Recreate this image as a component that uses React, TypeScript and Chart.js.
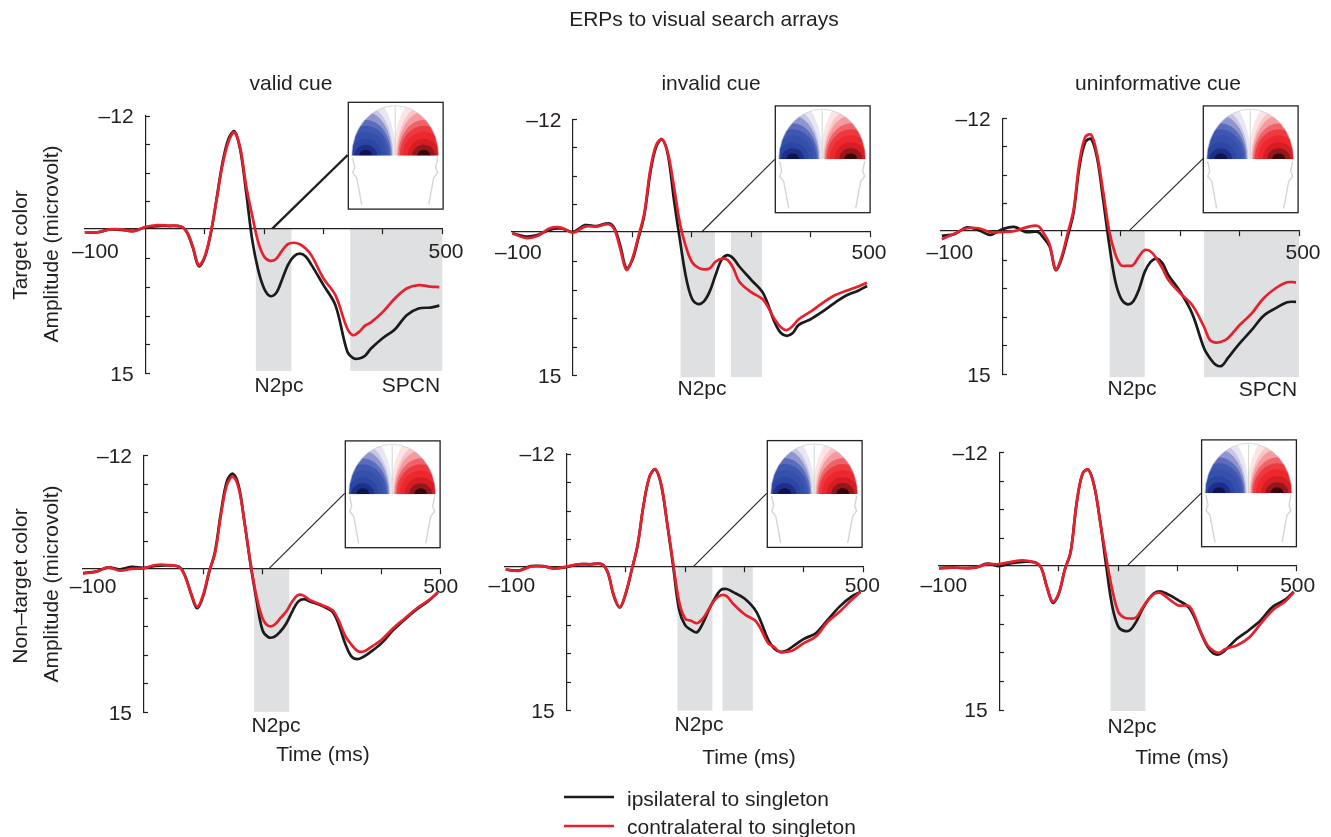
import React, { useEffect, useRef } from "react";
import { Chart, registerables } from "chart.js";

Chart.register(...registerables);

const FONT = '"Liberation Sans", Arial, sans-serif';
const INK = "#231f20";
const RED = "#e6202c";
const SHADE = "#dfe0e2";

const TIME = [-102, -80, -60, -40, -20, 0, 20, 40, 60, 70, 80, 90, 100, 110, 120, 130, 140, 150, 160, 170, 180, 190, 200, 210, 220, 230, 240, 250, 260, 270, 280, 300, 320, 340, 350, 360, 370, 380, 400, 420, 440, 460, 480, 495];
const X_TICKS = [-100, 0, 100, 200, 300, 400, 500];
const Y_TICKS = [-12, -9, -6, -3, 0, 3, 6, 9, 12, 15];

const VALID_TARGET_IPSI = [0.2, 0.2, -0.1, -0.05, 0.05, -0.3, -0.45, -0.45, -0.4, 0.2, 1.8, 3.75, 2.85, 0.4, -3.3, -7.1, -9.6, -10.4, -8.4, -3.9, 1.0, 4.15, 6.1, 6.9, 6.6, 5.2, 3.65, 2.75, 2.45, 2.75, 3.65, 5.75, 7.85, 12.7, 13.4, 13.45, 13.15, 12.4, 11.3, 10.4, 8.9, 8.2, 8.1, 7.9];
const VALID_TARGET_CONTRA = [0.2, 0.2, -0.1, -0.1, 0.1, -0.35, -0.55, -0.5, -0.4, 0.15, 1.7, 3.65, 2.75, 0.3, -3.2, -6.85, -9.3, -10.3, -8.6, -4.6, -1.55, 1.2, 2.75, 3.2, 3.0, 2.15, 1.45, 1.3, 1.45, 1.9, 2.65, 5.05, 6.8, 10.3, 11.0, 10.65, 10.0, 9.65, 8.55, 7.15, 6.1, 5.75, 5.9, 5.95];
const INVALID_TARGET_IPSI = [0, 0.35, 0.2, -0.35, -0.5, -0.15, -0.85, -0.75, -1.05, -0.5, 1.4, 3.7, 2.8, 0.55, -1.9, -6.3, -9.1, -9.9, -8.2, -3.5, 0.7, 4.55, 6.85, 7.45, 7.2, 6.15, 4.4, 2.8, 2.3, 2.65, 3.5, 4.9, 6.3, 9.45, 10.5, 10.8, 10.5, 9.65, 9.05, 8.25, 7.35, 6.55, 6.05, 5.55];
const INVALID_TARGET_CONTRA = [0, 0.5, 0.3, -0.5, -0.6, -0.05, -0.7, -0.7, -0.95, -0.35, 1.75, 3.85, 2.65, 0.35, -2.1, -6.65, -9.3, -9.9, -8.4, -4.9, -1.05, 1.4, 3.0, 3.6, 3.8, 3.7, 3.0, 2.7, 2.8, 3.7, 5.1, 6.2, 7.0, 9.1, 9.9, 10.2, 9.75, 9.05, 8.25, 7.35, 6.55, 6.05, 5.6, 5.2];
const UNINF_TARGET_IPSI = [0.4, 0.2, -0.5, -0.2, 0.3, -0.3, -0.55, 0, 0, 0.65, 1.55, 4.0, 2.8, 0.5, -2.0, -6.9, -9.5, -9.8, -7.75, -3.4, 1.2, 5.05, 7.0, 7.6, 7.35, 6.1, 4.2, 3.15, 2.8, 3.3, 4.55, 6.3, 8.6, 12.25, 13.3, 14.0, 14.1, 13.3, 11.75, 10.35, 8.85, 8.05, 7.4, 7.35];
const UNINF_TARGET_CONTRA = [0.75, 0.15, -0.4, -0.4, 0, 0, -0.1, -0.5, -0.65, 0.15, 1.35, 3.95, 2.6, 0.15, -2.3, -7.4, -10.05, -10.25, -8.1, -4.25, -0.2, 2.25, 3.5, 3.55, 3.5, 2.6, 1.9, 2.05, 2.8, 3.85, 5.05, 6.45, 7.7, 10.0, 11.4, 11.65, 11.55, 11.2, 9.8, 8.6, 7.0, 5.95, 5.3, 5.3];
const VALID_NONTARGET_IPSI = [0.35, 0.2, -0.25, -0.05, -0.3, -0.2, -0.4, -0.45, -0.3, 0.7, 2.6, 4.05, 2.8, 0.3, -1.9, -6.0, -9.3, -10.1, -8.8, -4.85, -0.5, 3.2, 6.35, 7.1, 7.05, 6.5, 5.65, 4.4, 3.35, 3.1, 3.35, 3.8, 4.6, 7.9, 9.15, 9.4, 9.15, 8.75, 7.75, 6.35, 5.2, 4.15, 3.25, 2.4];
const VALID_NONTARGET_CONTRA = [0.4, 0.2, -0.25, 0.1, -0.1, -0.15, -0.5, -0.5, -0.25, 0.75, 2.5, 3.9, 2.65, 0.2, -1.7, -5.75, -8.9, -9.8, -8.55, -4.85, -0.65, 2.85, 5.1, 5.9, 5.8, 5.1, 4.4, 3.35, 2.65, 2.75, 3.2, 3.7, 4.4, 7.05, 7.9, 8.55, 8.6, 8.25, 7.4, 6.15, 5.1, 4.05, 3.2, 2.4];
const INVALID_NONTARGET_IPSI = [0.15, 0.25, -0.2, -0.2, 0, -0.1, -0.4, -0.4, -0.4, 0.5, 2.95, 4.15, 2.7, 0.25, -2.4, -6.6, -9.6, -10.4, -8.65, -4.6, -0.15, 4.4, 6.0, 6.5, 6.75, 5.8, 4.4, 3.2, 2.3, 2.2, 2.5, 3.2, 4.6, 7.55, 8.45, 8.8, 8.7, 8.3, 7.45, 6.85, 5.45, 4.05, 3.0, 2.5];
const INVALID_NONTARGET_CONTRA = [0.15, 0.3, -0.15, -0.2, 0.05, -0.15, -0.4, -0.4, -0.4, 0.5, 2.85, 4.1, 2.65, 0.2, -2.4, -6.6, -9.6, -10.4, -8.75, -4.7, -0.5, 3.55, 5.3, 5.55, 5.8, 5.3, 4.3, 3.35, 2.85, 2.95, 3.7, 4.85, 5.65, 7.9, 8.3, 8.85, 8.8, 8.7, 7.9, 7.2, 5.65, 4.6, 3.35, 2.55];
const UNINF_NONTARGET_IPSI = [0.1, 0.05, 0.1, 0.05, -0.35, -0.1, -0.4, -0.55, -0.5, 0.05, 2.1, 3.75, 2.8, 0.3, -1.6, -6.7, -9.8, -10.2, -8.4, -4.6, 0, 4.15, 6.25, 6.7, 6.6, 5.75, 4.5, 3.45, 2.75, 2.55, 2.75, 3.45, 4.35, 7.05, 8.35, 9.05, 9.15, 8.7, 7.5, 6.6, 5.55, 4.15, 3.45, 2.6];
const UNINF_NONTARGET_CONTRA = [0.15, 0.05, 0.1, 0.05, -0.3, -0.3, -0.55, -0.7, -0.45, 0, 2.05, 3.65, 2.75, 0.3, -1.6, -6.7, -9.8, -10.2, -8.4, -4.6, -0.9, 2.4, 4.7, 5.3, 5.4, 5.3, 4.35, 3.45, 2.85, 2.7, 3.1, 4.0, 4.15, 7.0, 8.2, 8.8, 9.0, 8.6, 8.2, 7.4, 5.9, 4.5, 3.65, 2.65];

const COLUMN_TITLES = ["valid cue", "invalid cue", "uninformative cue"];
const LEGEND_LABELS = ["ipsilateral to singleton", "contralateral to singleton"];

type Panel = {
  ipsi: number[]; contra: number[];
  box: number[]; // xLeft, xRight, yTop, yBottom (px)
  xMin: number; axisY: number;
  shades: number[][]; shadeEnd: number;
  labelOffset: number; lead: string; tickPad: number;
};

const PANELS: Panel[] = [
  { ipsi: VALID_TARGET_IPSI, contra: VALID_TARGET_CONTRA, box: [84.3, 442.3, 116, 373.3], xMin: -102.7, axisY: -0.17, shades: [[186, 246], [345, 500]], shadeEnd: 14.75, labelOffset: 3.7, lead: "  ", tickPad: 6 },
  { ipsi: INVALID_TARGET_IPSI, contra: INVALID_TARGET_CONTRA, box: [511.7, 870, 119.3, 375.7], xMin: -103.2, axisY: -0.14, shades: [[181, 239], [266, 318]], shadeEnd: 15.15, labelOffset: -1, lead: "  ", tickPad: 4 },
  { ipsi: UNINF_TARGET_IPSI, contra: UNINF_TARGET_CONTRA, box: [940.7, 1299, 118.3, 374.3], xMin: -103.8, axisY: -0.14, shades: [[181, 240], [340, 500]], shadeEnd: 15.3, labelOffset: 4, lead: " ", tickPad: 5 },
  { ipsi: VALID_NONTARGET_IPSI, contra: VALID_NONTARGET_CONTRA, box: [82.7, 440.7, 455.7, 712.3], xMin: -102.7, axisY: -0.1, shades: [[186, 245]], shadeEnd: 14.95, labelOffset: 0, lead: "   ", tickPad: 1 },
  { ipsi: INVALID_NONTARGET_IPSI, contra: INVALID_NONTARGET_CONTRA, box: [505, 863.3, 454, 710.7], xMin: -103.2, axisY: -0.14, shades: [[187, 246], [263, 314]], shadeEnd: 15, labelOffset: -1, lead: "  ", tickPad: 2 },
  { ipsi: UNINF_NONTARGET_IPSI, contra: UNINF_NONTARGET_CONTRA, box: [939, 1296.7, 452.7, 710], xMin: -101.4, axisY: -0.14, shades: [[187, 245.5]], shadeEnd: 15.1, labelOffset: 1, lead: " ", tickPad: 3 },
];

const INSETS = [
  { x: 347.7, y: 101.7, line: [272.3, 228.7, 347.7, 155], lw: 2.4 },
  { x: 774.7, y: 105.3, line: [701.7, 232, 774.7, 159.3], lw: 1.1 },
  { x: 1202.7, y: 105.3, line: [1129.3, 230.7, 1203.3, 158.3], lw: 1.1 },
  { x: 344.7, y: 440.3, line: [269, 568.7, 344.7, 493.3], lw: 1.1 },
  { x: 766.7, y: 440, line: [693.3, 566.7, 766.7, 493.3], lw: 1.1 },
  { x: 1201, y: 439.3, line: [1127.3, 565.7, 1201, 493.3], lw: 1.1 },
];

const BLUES = ["#e8e6f2", "#c6c7e3", "#8e95cf", "#5b6cbc", "#3f57b1", "#3550ab", "#2c46a4", "#1e2f8a", "#0d1550"];
const REDS = ["#fce4e4", "#f9c6c8", "#f59a9d", "#f1636a", "#ee3a3f", "#ec282e", "#d61d23", "#94171c", "#3a0709"];
const BAND_RX = [30, 27.5, 26.5, 25.5, 24, 21, 16, 11.5, 6.5];
const BAND_RY = [62, 50, 44, 36, 30, 24, 17, 11, 6];

const pad = 72;
const rect = (p: Panel) => {
  const [xl, xr, yt, yb] = p.box;
  const left = Math.floor(xl) - pad;
  const top = Math.floor(yt) - 20;
  return { left, top, width: Math.ceil(xr - xl) + pad + 40, height: Math.ceil(yb - yt) + 60, pl: xl - left, pt: yt - top };
};

const shadePlugin = {
  id: "shade",
  beforeDraw(chart: any, _a: any, opts: any) {
    const { x, y } = chart.scales;
    const c = chart.ctx;
    c.save();
    c.fillStyle = SHADE;
    const y0 = y.getPixelForValue(opts.top);
    const y1 = y.getPixelForValue(opts.end);
    for (const [a, b] of opts.spans) {
      const xa = x.getPixelForValue(a);
      c.fillRect(xa, y0, x.getPixelForValue(b) - xa, y1 - y0);
    }
    c.restore();
  },
};

function Topo({ x, y }: { x: number; y: number }) {
  const head = "M4 54 A43.5 50 0 0 1 91 54 Z";
  const id = `h${Math.round(x)}${Math.round(y)}`;
  return (
    <g transform={`translate(${x} ${y})`}>
      <rect x="0.6" y="0.6" width="94.8" height="106.8" fill="#fff" stroke={INK} strokeWidth="1.3" />
      <clipPath id={id}><path d={head} /></clipPath>
      <g clipPath={`url(#${id})`} style={{ filter: "blur(0.7px)" }}>
        {BLUES.map((c, i) => <ellipse key={c} cx="18" cy="54" rx={BAND_RX[i]} ry={BAND_RY[i]} fill={c} />)}
        {REDS.map((c, i) => <ellipse key={c} cx="76" cy="54" rx={BAND_RX[i]} ry={BAND_RY[i]} fill={c} />)}
      </g>
      <path d="M4 54 A43.5 50 0 0 1 91 54" fill="none" stroke="#c9c9d2" strokeWidth="0.7" />
      <path d="M47.5 5 V54" stroke="#c4d0c4" strokeWidth="0.8" />
      <path d="M5 56 L7 66 L5 71 L9 76 L14 103 M90 56 L88 66 L90 71 L86 76 L81 103" fill="none" stroke="#d6d6d6" strokeWidth="1.4" />
    </g>
  );
}

const SIZE = 21;
const txt = (cx: number, cy: number): React.CSSProperties => ({
  position: "absolute", left: cx, top: cy - 1, transform: "translate(-50%,-50%)", whiteSpace: "pre",
  fontFamily: FONT, fontSize: SIZE, color: INK, lineHeight: 1,
});
const rot = (cx: number, cy: number): React.CSSProperties => ({ ...txt(cx, cy + 1), transform: "translate(-50%,-50%) rotate(-90deg)" });
const leg = (left: number, cy: number): React.CSSProperties => ({ ...txt(left, cy), transform: "translateY(-50%)" });

export default function App() {
  const refs = useRef<(HTMLCanvasElement | null)[]>([]);
  useEffect(() => {
    const charts = PANELS.map((p, i) => {
      const r = rect(p);
      const [xl, xr, yt, yb] = p.box;
      return new Chart(refs.current[i] as HTMLCanvasElement, {
        type: "line",
        data: {
          datasets: [
            { label: LEGEND_LABELS[0], order: 2, data: TIME.map((t, k) => ({ x: t, y: p.ipsi[k] })), borderColor: "#1c1a1b", borderWidth: 2.7, pointRadius: 0, tension: 0.35 },
            { label: LEGEND_LABELS[1], order: 1, data: TIME.map((t, k) => ({ x: t, y: p.contra[k] })), borderColor: RED, borderWidth: 2.7, pointRadius: 0, tension: 0.35 },
          ],
        } as any,
        options: {
          animation: false, responsive: false, maintainAspectRatio: false,
          layout: { padding: { left: r.pl, top: r.pt, right: r.width - r.pl - (xr - xl), bottom: r.height - r.pt - (yb - yt) } },
          plugins: {
            legend: { display: false }, tooltip: { enabled: false },
            shade: { spans: p.shades, top: p.axisY, end: p.shadeEnd },
          } as any,
          scales: {
            x: {
              type: "linear", min: p.xMin, max: 500, position: { y: p.axisY } as any,
              afterBuildTicks: (s: any) => { s.ticks = X_TICKS.map((value) => ({ value })); },
              border: { color: INK, width: 1.2 },
              grid: { drawOnChartArea: false, drawTicks: true, tickLength: 5, tickWidth: 1.2, tickColor: (c: any) => (c.tick && c.tick.value > 0 ? INK : "transparent") },
              ticks: {
                autoSkip: false, maxRotation: 0, minRotation: 0, padding: p.tickPad, labelOffset: p.labelOffset,
                color: INK, font: { family: FONT, size: SIZE },
                callback: (v: any) => (v === -100 ? `${p.lead}\u2013100` : v === 500 ? "500" : ""),
              },
            },
            y: {
              type: "linear", min: -12, max: 15, reverse: true, position: { x: 0 } as any,
              afterBuildTicks: (s: any) => { s.ticks = Y_TICKS.map((value) => ({ value })); },
              border: { color: INK, width: 1.2 },
              grid: { drawOnChartArea: false, drawTicks: true, tickLength: -5, tickWidth: 1.2, tickColor: (c: any) => (c.tick && c.tick.value !== 0 ? INK : "transparent") },
              ticks: {
                autoSkip: false, padding: -8, labelOffset: 1.5, color: INK, font: { family: FONT, size: SIZE },
                callback: (v: any) => (v === -12 ? "\u201312  " : v === 15 ? "15  " : ""),
              },
            },
          },
        } as any,
        plugins: [shadePlugin],
      });
    });
    return () => charts.forEach((c) => c.destroy());
  }, []);

  return (
    <div style={{ position: "absolute", left: 0, top: 0, width: 1331, height: 837, overflow: "hidden", background: "#fff" }}>
      {PANELS.map((p, i) => {
        const r = rect(p);
        return <canvas key={i} ref={(el) => { refs.current[i] = el; }} width={r.width} height={r.height} style={{ position: "absolute", left: r.left, top: r.top }} />;
      })}
      <svg width={1331} height={837} style={{ position: "absolute", left: 0, top: 0, pointerEvents: "none" }}>
        {INSETS.map((o, i) => <line key={i} x1={o.line[0]} y1={o.line[1]} x2={o.line[2]} y2={o.line[3]} stroke={INK} strokeWidth={o.lw} />)}
        {INSETS.map((o, i) => <Topo key={i} x={o.x} y={o.y} />)}
        <line x1={564} x2={614} y1={797} y2={797} stroke="#1c1a1b" strokeWidth={2.4} />
        <line x1={564} x2={614} y1={826} y2={826} stroke={RED} strokeWidth={2.4} />
      </svg>
      <div style={txt(704, 19)}>ERPs to visual search arrays</div>
      <div style={txt(291, 83)}>{COLUMN_TITLES[0]}</div>
      <div style={txt(711, 83)}>{COLUMN_TITLES[1]}</div>
      <div style={txt(1158, 83)}>{COLUMN_TITLES[2]}</div>
      <div style={rot(19, 245)}>Target color</div>
      <div style={rot(50, 244)}>Amplitude (microvolt)</div>
      <div style={rot(19, 586)}>Non–target color</div>
      <div style={rot(50, 584)}>Amplitude (microvolt)</div>
      <div style={txt(279, 385)}>N2pc</div>
      <div style={txt(411, 385)}>SPCN</div>
      <div style={txt(702, 388)}>N2pc</div>
      <div style={txt(1132, 388)}>N2pc</div>
      <div style={txt(1268, 389)}>SPCN</div>
      <div style={txt(276, 725)}>N2pc</div>
      <div style={txt(699, 724)}>N2pc</div>
      <div style={txt(1132, 726)}>N2pc</div>
      <div style={txt(323, 754)}>Time (ms)</div>
      <div style={txt(749, 757)}>Time (ms)</div>
      <div style={txt(1182, 757)}>Time (ms)</div>
      <div style={leg(627, 799)}>{LEGEND_LABELS[0]}</div>
      <div style={leg(627, 827)}>{LEGEND_LABELS[1]}</div>
    </div>
  );
}
